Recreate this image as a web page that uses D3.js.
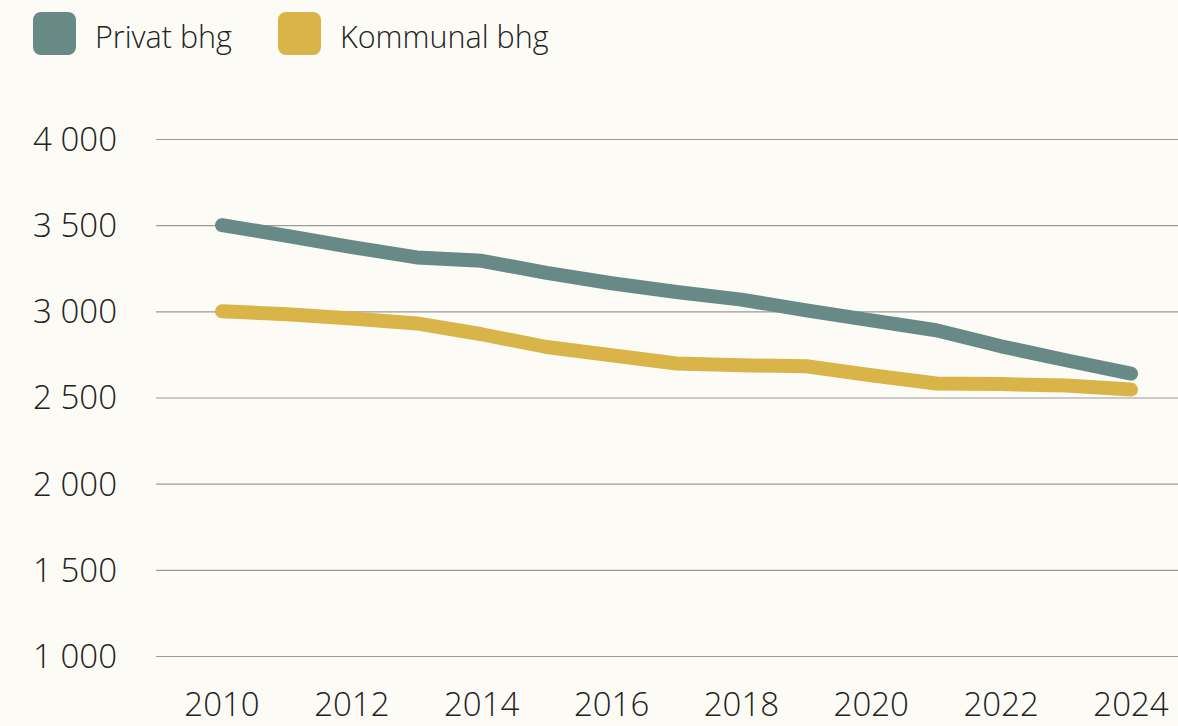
<!DOCTYPE html>
<html>
<head>
<meta charset="utf-8">
<script src="https://cdn.jsdelivr.net/npm/d3@7"></script>
<style>
  html, body { margin: 0; padding: 0; background: #fcfbf6; }
  svg { display: block; font-family: "Open Sans", sans-serif; font-weight: 300; }
</style>
</head>
<body>
<svg id="chart"></svg>
<script>
// Data
var years = [2010, 2011, 2012, 2013, 2014, 2015, 2016, 2017, 2018, 2019, 2020, 2021, 2022, 2023, 2024];
var privat = [3500, 3438, 3373, 3313, 3293, 3223, 3163, 3112, 3068, 3006, 2948, 2890, 2797, 2716, 2639];
var kommunal = [3000, 2983, 2959, 2930, 2867, 2793, 2745, 2697, 2687, 2681, 2629, 2581, 2578, 2569, 2546];
var seriesNames = ["Privat bhg", "Kommunal bhg"];
var seriesColors = ["#678a87", "#d9b449"];
var yTicks = [1000, 1500, 2000, 2500, 3000, 3500, 4000];
var xTicks = [2010, 2012, 2014, 2016, 2018, 2020, 2022, 2024];

var width = 1178, height = 726;

var svg = d3.select("#chart")
    .attr("width", width)
    .attr("height", height);

var x = d3.scaleLinear()
    .domain([2010, 2024])
    .range([222, 1131]);

var y = d3.scaleLinear()
    .domain([1000, 4000])
    .range([656, 139]);

var fmt = function(d) { return d3.format(",")(d).replace(",", " "); };

// Gridlines
svg.append("g")
    .selectAll("line")
    .data(yTicks)
  .enter().append("line")
    .attr("x1", 156)
    .attr("x2", width)
    .attr("y1", function(d) { return y(d) + 0.5; })
    .attr("y2", function(d) { return y(d) + 0.5; })
    .attr("stroke", "#9a9a98")
    .attr("stroke-width", 1.2);

// Y axis labels
svg.append("g")
    .selectAll("text")
    .data(yTicks)
  .enter().append("text")
    .attr("x", 117)
    .attr("y", function(d) { return y(d); })
    .attr("dy", "0.36em")
    .attr("text-anchor", "end")
    .attr("font-size", 33)
    .attr("fill", "#222")
    .text(fmt);

// X axis labels
svg.append("g")
    .selectAll("text")
    .data(xTicks)
  .enter().append("text")
    .attr("x", function(d) { return x(d); })
    .attr("y", 716)
    .attr("text-anchor", "middle")
    .attr("font-size", 33)
    .attr("fill", "#222")
    .text(function(d) { return d; });

// Lines
var line = d3.line()
    .x(function(d, i) { return x(years[i]); })
    .y(function(d) { return y(d); });

[privat, kommunal].forEach(function(values, i) {
  svg.append("path")
      .datum(values)
      .attr("fill", "none")
      .attr("stroke", seriesColors[i])
      .attr("stroke-width", 14)
      .attr("stroke-linecap", "round")
      .attr("stroke-linejoin", "round")
      .attr("d", line);
});

// Legend
var legendX = [33, 278];
var legend = svg.append("g")
    .selectAll("g")
    .data(seriesNames)
  .enter().append("g")
    .attr("transform", function(d, i) { return "translate(" + legendX[i] + ",12)"; });

legend.append("rect")
    .attr("width", 43)
    .attr("height", 43)
    .attr("rx", 8)
    .attr("fill", function(d, i) { return seriesColors[i]; });

legend.append("text")
    .attr("x", 62)
    .attr("y", 36)
    .attr("font-size", 30.5)
    .attr("fill", "#222")
    .text(function(d) { return d; });
</script>
</body>
</html>
